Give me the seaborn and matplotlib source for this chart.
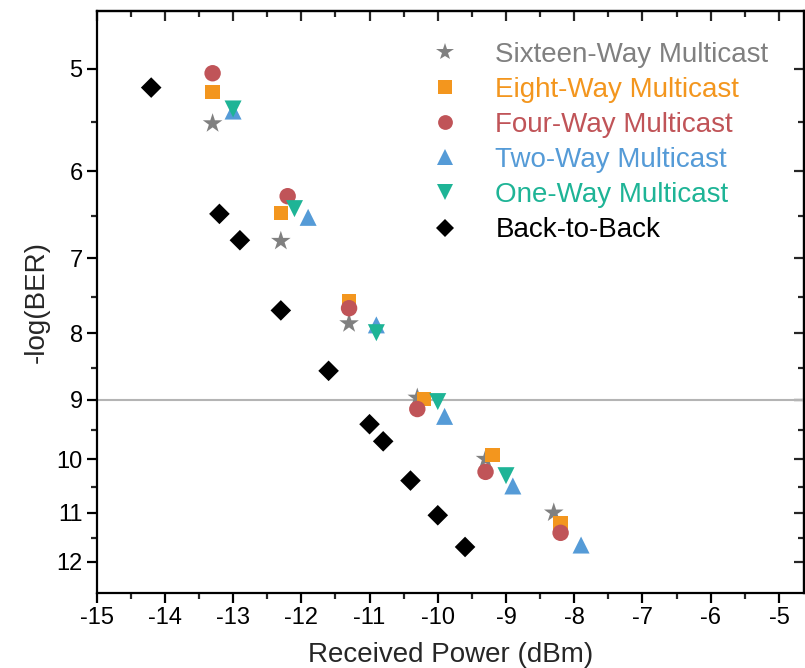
import matplotlib
matplotlib.use("Agg")
import matplotlib.pyplot as plt
from matplotlib.ticker import FixedLocator, FixedFormatter, NullFormatter
import seaborn as sns
import pandas as pd

# Received power (dBm) and -log(BER)
sixteen_x = [-13.3, -12.3, -11.3, -10.3, -9.3, -8.3]
sixteen_y = [5.51, 6.79, 7.86, 8.97, 10.0, 11.0]
eight_x = [-13.3, -12.3, -11.3, -10.2, -9.2, -8.2]
eight_y = [5.21, 6.46, 7.56, 8.99, 9.93, 11.2]
four_x = [-13.3, -12.2, -11.3, -10.3, -9.3, -8.2]
four_y = [5.04, 6.27, 7.65, 9.15, 10.23, 11.4]
two_x = [-13.0, -11.9, -10.9, -9.9, -8.9, -7.9]
two_y = [5.39, 6.51, 7.88, 9.27, 10.49, 11.65]
one_x = [-13.0, -12.1, -10.9, -10.0, -9.0]
one_y = [5.37, 6.41, 7.99, 9.03, 10.30]
b2b_x = [-14.2, -13.2, -12.9, -12.3, -11.6, -11.0, -10.8, -10.4, -10.0, -9.6]
b2b_y = [5.17, 6.47, 6.78, 7.68, 8.55, 9.40, 9.69, 10.39, 11.05, 11.69]

series_names = ["Sixteen-Way Multicast", "Eight-Way Multicast", "Four-Way Multicast",
                "Two-Way Multicast", "One-Way Multicast", "Back-to-Back"]
y_ticks = [5, 6, 7, 8, 9, 10, 11, 12]
y_minor = [5.5, 6.5, 7.5, 8.5, 9.5, 10.5, 11.5]
x_ticks = [-15, -14, -13, -12, -11, -10, -9, -8, -7, -6, -5]
x_minor = [-14.5, -13.5, -12.5, -11.5, -10.5, -9.5, -8.5, -7.5, -6.5, -5.5]

colors = {"Sixteen-Way Multicast": "#808080", "Eight-Way Multicast": "#F3961E",
          "Four-Way Multicast": "#C05458", "Two-Way Multicast": "#559BD7",
          "One-Way Multicast": "#1EB496", "Back-to-Back": "#000000"}
markers = {"Sixteen-Way Multicast": "*", "Eight-Way Multicast": "s",
           "Four-Way Multicast": "o", "Two-Way Multicast": "^",
           "One-Way Multicast": "v", "Back-to-Back": "D"}
sizes = {"Sixteen-Way Multicast": 220, "Eight-Way Multicast": 110,
         "Four-Way Multicast": 140, "Two-Way Multicast": 150,
         "One-Way Multicast": 150, "Back-to-Back": 110}

xs = [sixteen_x, eight_x, four_x, two_x, one_x, b2b_x]
ys = [sixteen_y, eight_y, four_y, two_y, one_y, b2b_y]
rows = []
for name, sx, sy in zip(series_names, xs, ys):
    for a, b in zip(sx, sy):
        rows.append({"power": a, "ber": b, "series": name})
df = pd.DataFrame(rows)

sns.set_style("ticks")
plt.rcParams["font.family"] = ["Liberation Sans", "DejaVu Sans"]

fig = plt.figure(figsize=(8.05, 6.68), dpi=100)
ax = fig.add_axes([0.120, 0.112, 0.879, 0.872])

ax.axhline(9, color="#b4b4b4", lw=1.5, zorder=1)

sns.scatterplot(data=df, x="power", y="ber", hue="series", style="series", size="series",
                hue_order=series_names, style_order=series_names, size_order=series_names,
                palette=colors, markers=markers, sizes=sizes,
                linewidth=0, ax=ax, zorder=3)

ax.set_yscale("log")
ax.set_ylim(12.69, 4.51)
ax.set_xlim(-15, -4.63)
ax.yaxis.set_major_locator(FixedLocator(y_ticks))
ax.yaxis.set_major_formatter(FixedFormatter([str(t) for t in y_ticks]))
ax.yaxis.set_minor_locator(FixedLocator(y_minor))
ax.yaxis.set_minor_formatter(NullFormatter())
ax.set_xticks(x_ticks)
ax.set_xticklabels([str(t) for t in x_ticks])
ax.set_xticks(x_minor, minor=True)

for s in ax.spines.values():
    s.set_linewidth(1.6)
    s.set_color("black")
ax.tick_params(axis="both", which="major", labelsize=17, length=7, width=1.6, pad=3,
               direction="out", top=False, right=False, colors="black")
ax.tick_params(axis="both", which="minor", length=4, width=1.6, direction="out",
               top=False, right=False)

# inward ticks on the top and right edges
top = ax.secondary_xaxis("top")
top.set_xticks(x_ticks)
top.set_xticks(x_minor, minor=True)
top.tick_params(which="major", direction="in", length=7, width=1.6, labeltop=False)
top.tick_params(which="minor", direction="in", length=4, width=1.6)
top.spines["top"].set_linewidth(1.6)

right = ax.secondary_yaxis("right")
right.yaxis.set_major_locator(FixedLocator(y_ticks))
right.yaxis.set_minor_locator(FixedLocator(y_minor))
right.yaxis.set_minor_formatter(NullFormatter())
right.tick_params(which="major", direction="in", length=7, width=1.6, labelright=False)
right.tick_params(which="minor", direction="in", length=4, width=1.6)
right.spines["right"].set_linewidth(1.6)

ax.set_xlabel("Received Power (dBm)", fontsize=20, labelpad=9)
ax.set_ylabel("-log(BER)", fontsize=20, labelpad=5)

handles, labels = ax.get_legend_handles_labels()
leg = ax.legend(handles, labels, frameon=False, loc="upper right",
                bbox_to_anchor=(0.985, 0.99), fontsize=20, labelspacing=0.33,
                handletextpad=0.8, markerscale=0.9)
for txt, name in zip(leg.get_texts(), series_names):
    txt.set_color(colors[name])

fig.savefig("out.png", dpi=100)
